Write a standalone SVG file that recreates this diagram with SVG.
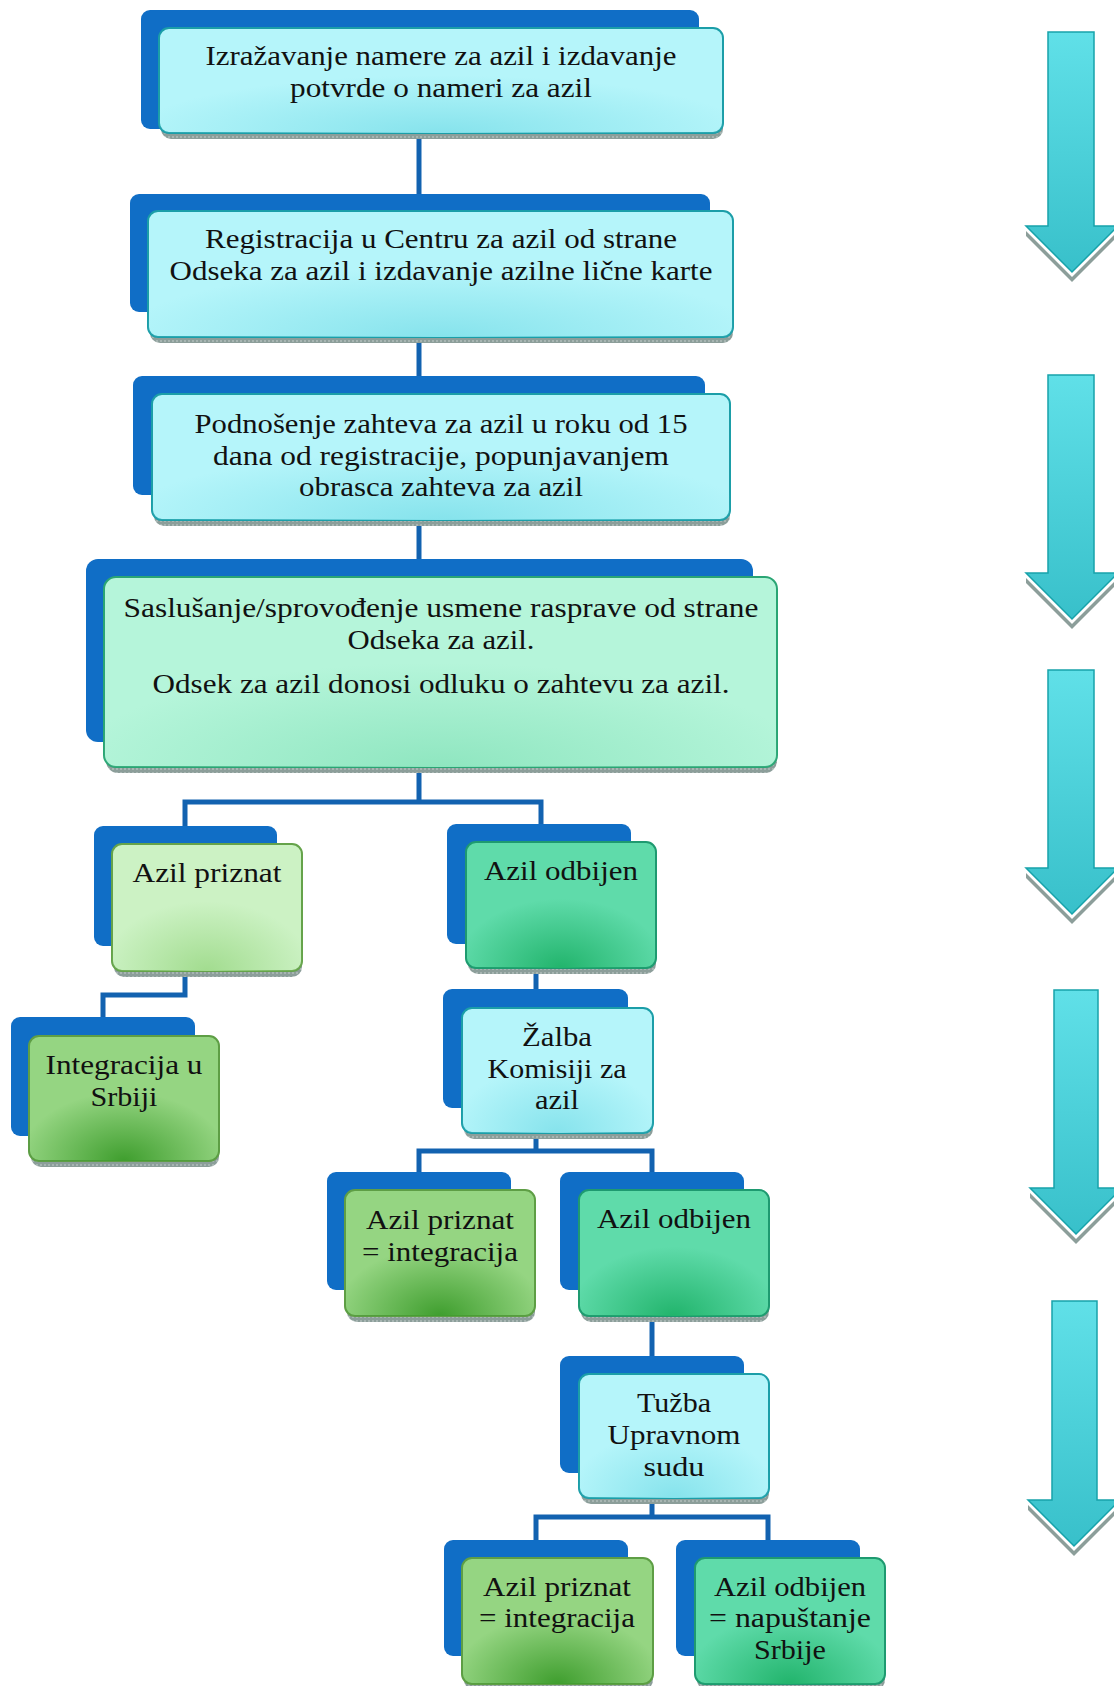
<svg xmlns="http://www.w3.org/2000/svg" width="1114" height="1686" viewBox="0 0 1114 1686">
<defs>
<pattern id="dots" width="4" height="4" patternUnits="userSpaceOnUse">
<rect width="4" height="4" fill="#8C9E9A"/>
<circle cx="1" cy="1" r="0.8" fill="#C9D3D1"/>
</pattern>
<radialGradient id="gCyan" cx="0.5" cy="1" r="0.55"><stop offset="0" stop-color="#86E3EC"/><stop offset="1" stop-color="#86E3EC" stop-opacity="0"/></radialGradient>
<radialGradient id="gMintL" cx="0.5" cy="1" r="0.55"><stop offset="0" stop-color="#8FE6C0"/><stop offset="1" stop-color="#8FE6C0" stop-opacity="0"/></radialGradient>
<radialGradient id="gLGreen" cx="0.5" cy="1" r="0.55"><stop offset="0" stop-color="#A2DC8F"/><stop offset="1" stop-color="#A2DC8F" stop-opacity="0"/></radialGradient>
<radialGradient id="gMint" cx="0.5" cy="1" r="0.55"><stop offset="0" stop-color="#22B46C"/><stop offset="1" stop-color="#22B46C" stop-opacity="0"/></radialGradient>
<radialGradient id="gGreen" cx="0.5" cy="1" r="0.55"><stop offset="0" stop-color="#3F9E2E"/><stop offset="1" stop-color="#3F9E2E" stop-opacity="0"/></radialGradient>
<linearGradient id="arrowG" x1="0" y1="0" x2="0" y2="1"><stop offset="0" stop-color="#60E0E8"/><stop offset="1" stop-color="#38C0CA"/></linearGradient>
<linearGradient id="headG" x1="0" y1="0" x2="1" y2="0"><stop offset="0" stop-color="#5ADAE2"/><stop offset="0.5" stop-color="#34BCC6"/><stop offset="1" stop-color="#5ADAE2"/></linearGradient>
</defs>
<style>
.back{fill:#106EC6}
.shadow{fill:url(#dots)}
.cyan{fill:#B5F5FA;stroke:#1B9EA8;stroke-width:2}
.mintl{fill:#B5F5DA;stroke:#2AA574;stroke-width:2}
.lgreen{fill:#CCF2C4;stroke:#65A34A;stroke-width:2}
.mint{fill:#5FDBAA;stroke:#1E9A70;stroke-width:2}
.green{fill:#95D582;stroke:#5E9E45;stroke-width:2}
.ov{stroke:none}
.conn{fill:none;stroke:#1262B0;stroke-width:5}
text{font-family:"Liberation Serif","Times New Roman",serif;font-size:27px;fill:#111;text-anchor:middle}
.arrow{fill:url(#arrowG);stroke:#17A2AA;stroke-width:1.5}
.ashadow{fill:#8C9E9A}
</style>

<g id="connectors">
<path class="conn" d="M419 133V211"/>
<path class="conn" d="M419 337V394"/>
<path class="conn" d="M419 520V577"/>
<path class="conn" d="M419 767V802M185 844V802H541V842"/>
<path class="conn" d="M185 971V995H103V1036"/>
<path class="conn" d="M536 968V1008"/>
<path class="conn" d="M536 1133V1151M419 1190V1151H652V1190"/>
<path class="conn" d="M652 1316V1374"/>
<path class="conn" d="M652 1498V1517M536 1558V1517H768V1558"/>
</g>

<g id="node1">
<rect class="back" x="141" y="10" width="558" height="119" rx="9"/>
<rect class="shadow" x="161" y="34" width="562" height="105" rx="10"/>
<rect class="cyan" x="159" y="28" width="564" height="105" rx="10"/>
<rect class="ov" x="159" y="28" width="564" height="105" rx="10" fill="url(#gCyan)"/>
<text x="441" y="65" textLength="471" lengthAdjust="spacingAndGlyphs">Izražavanje namere za azil i izdavanje</text>
<text x="441" y="97" textLength="302" lengthAdjust="spacingAndGlyphs">potvrde o nameri za azil</text>
</g>

<g id="node2">
<rect class="back" x="130" y="194" width="580" height="118" rx="9"/>
<rect class="shadow" x="150" y="217" width="583" height="126" rx="10"/>
<rect class="cyan" x="148" y="211" width="585" height="126" rx="10"/>
<rect class="ov" x="148" y="211" width="585" height="126" rx="10" fill="url(#gCyan)"/>
<text x="441" y="248" textLength="472" lengthAdjust="spacingAndGlyphs">Registracija u Centru za azil od strane</text>
<text x="441" y="280" textLength="543" lengthAdjust="spacingAndGlyphs">Odseka za azil i izdavanje azilne lične karte</text>
</g>

<g id="node3">
<rect class="back" x="133" y="376" width="572" height="119" rx="9"/>
<rect class="shadow" x="154" y="400" width="576" height="126" rx="10"/>
<rect class="cyan" x="152" y="394" width="578" height="126" rx="10"/>
<rect class="ov" x="152" y="394" width="578" height="126" rx="10" fill="url(#gCyan)"/>
<text x="441" y="433" textLength="493" lengthAdjust="spacingAndGlyphs">Podnošenje zahteva za azil u roku od 15</text>
<text x="441" y="465" textLength="456" lengthAdjust="spacingAndGlyphs">dana od registracije, popunjavanjem</text>
<text x="441" y="496" textLength="284" lengthAdjust="spacingAndGlyphs">obrasca zahteva za azil</text>
</g>

<g id="node4">
<rect class="back" x="86" y="559" width="667" height="183" rx="12"/>
<rect class="shadow" x="106" y="583" width="671" height="190" rx="12"/>
<rect class="mintl" x="104" y="577" width="673" height="190" rx="12"/>
<rect class="ov" x="104" y="577" width="673" height="190" rx="12" fill="url(#gMintL)"/>
<text x="441" y="617" textLength="635" lengthAdjust="spacingAndGlyphs">Saslušanje/sprovođenje usmene rasprave od strane</text>
<text x="441" y="649" textLength="187" lengthAdjust="spacingAndGlyphs">Odseka za azil.</text>
<text x="441" y="693" textLength="577" lengthAdjust="spacingAndGlyphs">Odsek za azil donosi odluku o zahtevu za azil.</text>
</g>

<g id="node5">
<rect class="back" x="94" y="826" width="183" height="120" rx="9"/>
<rect class="shadow" x="114" y="850" width="188" height="127" rx="10"/>
<rect class="lgreen" x="112" y="844" width="190" height="127" rx="10"/>
<rect class="ov" x="112" y="844" width="190" height="127" rx="10" fill="url(#gLGreen)"/>
<text x="207" y="882" textLength="149" lengthAdjust="spacingAndGlyphs">Azil priznat</text>
</g>

<g id="node6">
<rect class="back" x="447" y="824" width="184" height="120" rx="9"/>
<rect class="shadow" x="468" y="848" width="188" height="126" rx="10"/>
<rect class="mint" x="466" y="842" width="190" height="126" rx="10"/>
<rect class="ov" x="466" y="842" width="190" height="126" rx="10" fill="url(#gMint)"/>
<text x="561" y="880" textLength="154" lengthAdjust="spacingAndGlyphs">Azil odbijen</text>
</g>

<g id="node7">
<rect class="back" x="11" y="1017" width="184" height="119" rx="9"/>
<rect class="shadow" x="31" y="1042" width="188" height="125" rx="10"/>
<rect class="green" x="29" y="1036" width="190" height="125" rx="10"/>
<rect class="ov" x="29" y="1036" width="190" height="125" rx="10" fill="url(#gGreen)"/>
<text x="124" y="1074" textLength="157" lengthAdjust="spacingAndGlyphs">Integracija u</text>
<text x="124" y="1106" textLength="67" lengthAdjust="spacingAndGlyphs">Srbiji</text>
</g>

<g id="node8">
<rect class="back" x="443" y="989" width="185" height="119" rx="9"/>
<rect class="shadow" x="464" y="1014" width="189" height="125" rx="10"/>
<rect class="cyan" x="462" y="1008" width="191" height="125" rx="10"/>
<rect class="ov" x="462" y="1008" width="191" height="125" rx="10" fill="url(#gCyan)"/>
<text x="557" y="1046" textLength="70" lengthAdjust="spacingAndGlyphs">Žalba</text>
<text x="557" y="1078" textLength="139" lengthAdjust="spacingAndGlyphs">Komisiji za</text>
<text x="557" y="1109" textLength="44" lengthAdjust="spacingAndGlyphs">azil</text>
</g>

<g id="node9">
<rect class="back" x="327" y="1172" width="184" height="118" rx="9"/>
<rect class="shadow" x="347" y="1196" width="188" height="126" rx="10"/>
<rect class="green" x="345" y="1190" width="190" height="126" rx="10"/>
<rect class="ov" x="345" y="1190" width="190" height="126" rx="10" fill="url(#gGreen)"/>
<text x="440" y="1229" textLength="148" lengthAdjust="spacingAndGlyphs">Azil priznat</text>
<text x="440" y="1261" textLength="156" lengthAdjust="spacingAndGlyphs">= integracija</text>
</g>

<g id="node10">
<rect class="back" x="560" y="1172" width="184" height="118" rx="9"/>
<rect class="shadow" x="581" y="1196" width="188" height="126" rx="10"/>
<rect class="mint" x="579" y="1190" width="190" height="126" rx="10"/>
<rect class="ov" x="579" y="1190" width="190" height="126" rx="10" fill="url(#gMint)"/>
<text x="674" y="1228" textLength="154" lengthAdjust="spacingAndGlyphs">Azil odbijen</text>
</g>

<g id="node11">
<rect class="back" x="560" y="1356" width="184" height="117" rx="9"/>
<rect class="shadow" x="581" y="1380" width="188" height="124" rx="10"/>
<rect class="cyan" x="579" y="1374" width="190" height="124" rx="10"/>
<rect class="ov" x="579" y="1374" width="190" height="124" rx="10" fill="url(#gCyan)"/>
<text x="674" y="1412" textLength="74" lengthAdjust="spacingAndGlyphs">Tužba</text>
<text x="674" y="1444" textLength="133" lengthAdjust="spacingAndGlyphs">Upravnom</text>
<text x="674" y="1476" textLength="61" lengthAdjust="spacingAndGlyphs">sudu</text>
</g>

<g id="node12">
<rect class="back" x="444" y="1540" width="184" height="116" rx="9"/>
<rect class="shadow" x="464" y="1564" width="189" height="126" rx="10"/>
<rect class="green" x="462" y="1558" width="191" height="126" rx="10"/>
<rect class="ov" x="462" y="1558" width="191" height="126" rx="10" fill="url(#gGreen)"/>
<text x="557" y="1596" textLength="148" lengthAdjust="spacingAndGlyphs">Azil priznat</text>
<text x="557" y="1627" textLength="156" lengthAdjust="spacingAndGlyphs">= integracija</text>
</g>

<g id="node13">
<rect class="back" x="676" y="1540" width="184" height="116" rx="9"/>
<rect class="shadow" x="697" y="1564" width="188" height="126" rx="10"/>
<rect class="mint" x="695" y="1558" width="190" height="126" rx="10"/>
<rect class="ov" x="695" y="1558" width="190" height="126" rx="10" fill="url(#gMint)"/>
<text x="790" y="1596" textLength="152" lengthAdjust="spacingAndGlyphs">Azil odbijen</text>
<text x="790" y="1627" textLength="162" lengthAdjust="spacingAndGlyphs">= napuštanje</text>
<text x="790" y="1659" textLength="72" lengthAdjust="spacingAndGlyphs">Srbije</text>
</g>

<g id="arrows">
<g id="arrow1">
<polygon class="ashadow" points="1026,231 1072,277 1118,231 1118,236 1072,282 1026,236"/>
<polygon class="arrow" points="1048,32 1094,32 1094,226 1118,226 1072,272 1026,226 1048,226"/>
</g>
<g id="arrow2">
<polygon class="ashadow" points="1026,578 1072,624 1118,578 1118,583 1072,629 1026,583"/>
<polygon class="arrow" points="1048,375 1094,375 1094,573 1118,573 1072,619 1026,573 1048,573"/>
</g>
<g id="arrow3">
<polygon class="ashadow" points="1026,873 1072,919 1118,873 1118,878 1072,924 1026,878"/>
<polygon class="arrow" points="1048,670 1094,670 1094,868 1118,868 1072,914 1026,868 1048,868"/>
</g>
<g id="arrow4">
<polygon class="ashadow" points="1030,1193 1076,1239 1122,1193 1122,1198 1076,1244 1030,1198"/>
<polygon class="arrow" points="1054,990 1098,990 1098,1188 1122,1188 1076,1234 1030,1188 1054,1188"/>
</g>
<g id="arrow5">
<polygon class="ashadow" points="1028,1505 1074,1551 1120,1505 1120,1510 1074,1556 1028,1510"/>
<polygon class="arrow" points="1052,1301 1097,1301 1097,1500 1120,1500 1074,1546 1028,1500 1052,1500"/>
</g>
</g>
</svg>
